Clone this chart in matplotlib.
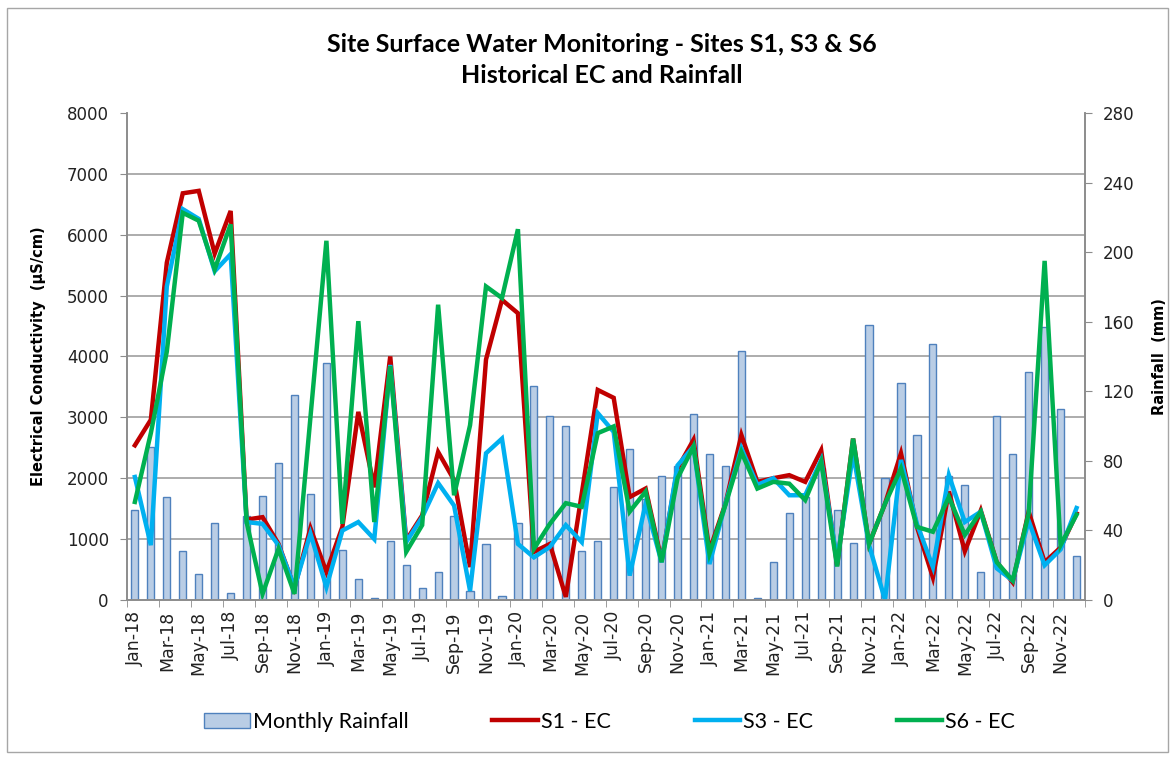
import numpy as np
import pandas as pd
import matplotlib
matplotlib.use("Agg")
import matplotlib.pyplot as plt
from matplotlib.patches import Rectangle

# categories: Jan-18 .. Dec-22
months = [d.strftime("%b-%y") for d in pd.date_range("2018-01-01", periods=60, freq="MS")]

# monthly rainfall (mm), right axis
rainfall = [52, 88, 59, 28, 15, 44, 4, 48, 60, 79, 118, 61, 136, 29, 12,
            1, 34, 20, 7, 16, 48, 5, 32, 2, 44, 123, 106, 100, 28, 34,
            65, 87, 58, 71, 77, 107, 84, 77, 143, 1, 22, 50, 59, 76, 52,
            33, 158, 70, 125, 95, 147, 71, 66, 16, 106, 84, 131, 157, 110, 25]

# electrical conductivity (uS/cm), left axis
s1_ec = [2540, 2960, 5540, 6680, 6720, 5690, 6390, 1320, 1360, 920, 200, 1180, 460, 1200, 3090,
         1850, 4000, 980, 1390, 2430, 1970, 540, 3950, 4930, 4710, 790, 920, 50, 1750, 3450,
         3320, 1690, 1830, 650, 2160, 2630, 810, 1580, 2710, 1940, 2000, 2050, 1940, 2460, 570,
         2650, 920, 1580, 2410, 1200, 370, 1780, 800, 1470, 620, 290, 1450, 620, 860, 1420]
s3_ec = [2020, 900, 5150, 6420, 6260, 5400, 5680, 1280, 1250, 900, 210, 1090, 210, 1140, 1280,
         1000, 3860, 950, 1360, 1920, 1550, 150, 2410, 2650, 920, 700, 870, 1230, 950, 3070,
         2760, 400, 1580, 620, 2210, 2520, 590, 1580, 2490, 1890, 2000, 1720, 1720, 2300, 650,
         2410, 900, 0, 2300, 1250, 540, 2050, 1280, 1450, 520, 320, 1300, 570, 830, 1510]
s6_ec = [1610, 2740, 4080, 6360, 6230, 5430, 6170, 1280, 100, 840, 100, 3000, 5900, 1250, 4580,
         1280, 3840, 790, 1230, 4850, 1720, 2870, 5150, 4960, 6090, 840, 1250, 1590, 1530, 2740,
         2850, 1450, 1780, 620, 2000, 2520, 760, 1560, 2430, 1830, 1940, 1910, 1640, 2270, 550,
         2650, 920, 1580, 2160, 1200, 1120, 1690, 1070, 1450, 620, 320, 1420, 5570, 900, 1400]

x = np.arange(len(months))
grey = "#8c8c8c"

fig = plt.figure(figsize=(11.75, 7.58), dpi=100)
fig.add_artist(Rectangle((0.006, 0.008), 0.988, 0.982, transform=fig.transFigure,
                         fill=False, edgecolor="#a6a6a6", lw=1))

ax_rain = fig.add_axes([0.108, 0.2085, 0.815, 0.6425])
ax_ec = ax_rain.twinx()

### rainfall bars (drawn underneath), gridlines follow the EC scale (1000 uS/cm = 35 mm)
bars = ax_rain.bar(x, rainfall, width=0.45, color="#b9cde5", edgecolor="#4f81bd",
                   linewidth=1, label="Monthly Rainfall", zorder=2)
ax_rain.set_ylim(0, 280)
ax_rain.set_yticks(np.arange(0, 281, 40))
ax_rain.set_yticks(np.arange(0, 281, 35), minor=True)
ax_rain.grid(which="minor", axis="y", color="#a6a6a6", lw=1.3, zorder=0)
ax_rain.set_axisbelow(True)
ax_rain.yaxis.tick_right()
ax_rain.yaxis.set_label_position("right")
ax_rain.tick_params(axis="y", which="minor", length=0)
ax_rain.tick_params(axis="y", which="major", direction="out", length=5, color=grey,
                    labelsize=12, labelcolor="#222222", pad=8)
ax_rain.set_ylabel("Rainfall  (mm)", fontsize=10.5, fontweight="bold", labelpad=13)

### EC lines
l1, = ax_ec.plot(x, s1_ec, color="#c00000", lw=3.2, label="S1 - EC", solid_joinstyle="miter")
l3, = ax_ec.plot(x, s3_ec, color="#00b0f0", lw=3.2, label="S3 - EC", solid_joinstyle="miter")
l6, = ax_ec.plot(x, s6_ec, color="#00b050", lw=3.2, label="S6 - EC", solid_joinstyle="miter")
ax_ec.set_ylim(0, 8000)
ax_ec.set_yticks(np.arange(0, 8001, 1000))
ax_ec.yaxis.tick_left()
ax_ec.yaxis.set_label_position("left")
ax_ec.tick_params(axis="y", direction="out", length=5, color=grey,
                  labelsize=12, labelcolor="#222222", pad=8)
ax_ec.set_ylabel("Electrical Conductivity  (µS/cm)", fontsize=10.5, fontweight="bold",
                 labelpad=15)

### x axis: labels every 2nd month, tick marks at category boundaries
ax_rain.set_xlim(-0.5, len(months) - 0.5)
ax_rain.set_xticks(x[::2])
ax_rain.set_xticklabels(months[::2], rotation=90, fontsize=12.5, color="#222222")
ax_rain.set_xticks(np.arange(-0.5, len(months), 2), minor=True)
ax_rain.tick_params(axis="x", which="major", length=0, pad=8)
ax_rain.tick_params(axis="x", which="minor", direction="out", length=5, color=grey)

for a in (ax_rain, ax_ec):
    a.spines["top"].set_visible(False)
    for s in ("left", "right", "bottom"):
        a.spines[s].set_color(grey)
        a.spines[s].set_linewidth(1.2)

fig.text(0.512, 0.941, "Site Surface Water Monitoring - Sites S1, S3 & S6",
         ha="center", va="center", fontsize=18, fontweight="bold", family=["Lato", "DejaVu Sans"])
fig.text(0.512, 0.901, "Historical EC and Rainfall",
         ha="center", va="center", fontsize=18, fontweight="bold", family=["Lato", "DejaVu Sans"])

fig.legend([bars, l1, l3, l6], ["Monthly Rainfall", "S1 - EC", "S3 - EC", "S6 - EC"],
           loc="center", bbox_to_anchor=(0.519, 0.048), ncol=4, frameon=False,
           prop={"family": ["Lato", "DejaVu Sans"], "size": 15.5},
           handlelength=2.1, handletextpad=0.15, columnspacing=3.9)

fig.savefig("out.png", dpi=100)
